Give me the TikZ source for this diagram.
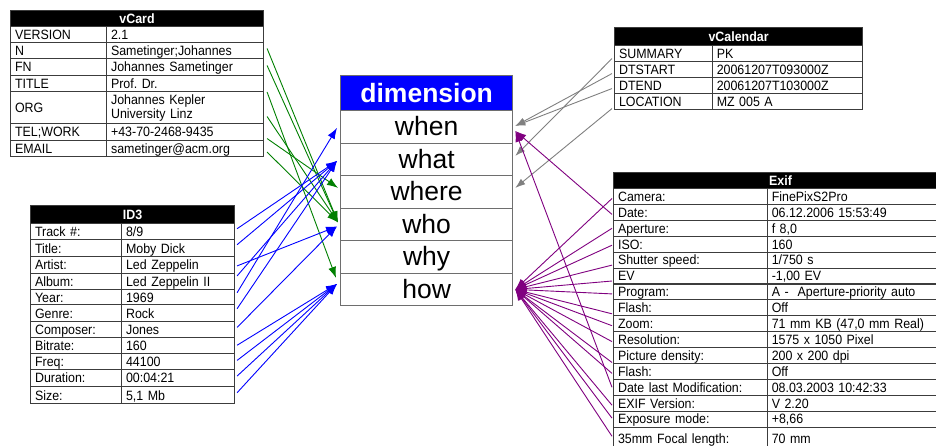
\documentclass[tikz,border=0pt]{standalone}
\usepackage{fontspec}
\setmainfont{Liberation Sans}
\newfontfamily\tabfam[FakeStretch=0.92]{Liberation Sans}
\usetikzlibrary{arrows.meta}
\frenchspacing
\definecolor{tabline}{RGB}{60,60,60}
\definecolor{dimline}{RGB}{110,110,110}
\definecolor{cgreen}{RGB}{0,128,0}
\definecolor{cblue}{RGB}{0,0,255}
\definecolor{cgray}{RGB}{128,128,128}
\definecolor{cpurple}{RGB}{128,0,128}
\newcommand\tabfont{\tabfam\fontsize{13.5}{14}\selectfont}
\newcommand\dimfont{\fontsize{26.5}{29}\selectfont}
% #1 name, #2 x0, #3 y0, #4 x1, #5 y1, #6 style, #7 text
\newcommand\tcell[7]{%
  \pgfmathsetmacro\cw{#4-#2}\pgfmathsetmacro\ch{#5-#3}\pgfmathsetmacro\tw{#4-#2-9}%
  \node[#6, minimum width=\cw pt, minimum height=\ch pt, text width=\tw pt] (#1) at (#2,#3) {#7};}
% #1 name, #2 x0, #3 xm, #4 x1, #5 y0, #6 y1, #7 label, #8 value
\newcommand\trow[8]{\tcell{#1k}{#2}{#5}{#3}{#6}{cell}{#7}\tcell{#1}{#3}{#5}{#4}{#6}{cell}{#8}}
\newcommand\trowml[8]{\tcell{#1k}{#2}{#5}{#3}{#6}{cellml}{#7}\tcell{#1}{#3}{#5}{#4}{#6}{cellml}{#8}}
\begin{document}
\begin{tikzpicture}[x=1pt,y=-1pt,
  cellml/.style={rectangle, draw=tabline, line width=1.1pt, inner xsep=4.5pt, inner ysep=0pt,
    font=\tabfont, align=left, anchor=north west},
  cell/.style={cellml, text height=11pt, text depth=1.3pt},
  hcell/.style={cell, fill=black, text=white, font=\tabfont\bfseries, align=center},
  dimcell/.style={rectangle, draw=dimline, line width=1.3pt, inner sep=0pt, font=\dimfont,
    anchor=north west, minimum width=172pt, minimum height=32.5pt,
    text height=20pt, text depth=2pt},
  dimhead/.style={dimcell, fill=cblue, text=white, font=\dimfont\bfseries, minimum height=35pt},
  garrow/.style={draw=cgreen, line width=0.9pt, -{Latex[length=11pt,width=8pt]}},
  barrow/.style={draw=cblue, line width=0.9pt, -{Latex[length=11pt,width=8pt]}},
  grarrow/.style={draw=cgray, line width=0.9pt, -{Latex[length=10pt,width=7pt]}},
  parrow/.style={draw=cpurple, line width=0.9pt, -{Latex[length=11pt,width=8pt]}}]
\clip (0,0) rectangle (936,445);
\fill[white] (0,0) rectangle (936,445);
% ---------- vCard ----------
\tcell{vcH}{10}{9.5}{263}{26}{hcell}{vCard}
\trow{vcVER}{10}{106}{263}{26}{42}{VERSION}{2.1}
\trow{vcN}{10}{106}{263}{42}{58}{N}{Sametinger;Johannes}
\trow{vcFN}{10}{106}{263}{58}{75}{FN}{Johannes Sametinger}
\trow{vcTI}{10}{106}{263}{75}{91}{TITLE}{Prof. Dr.}
\trowml{vcORG}{10}{106}{263}{91}{123}{ORG}{Johannes Kepler\\University Linz}
\trow{vcTEL}{10}{106}{263}{123}{140}{TEL;WORK}{+43-70-2468-9435}
\trow{vcEM}{10}{106}{263}{140}{156}{EMAIL}{sametinger@acm.org}
% ---------- ID3 ----------
\tcell{idH}{30}{205}{234}{223}{hcell}{ID3}
\trow{idTR}{30}{121}{234}{223}{239.3}{Track \#:}{8/9}
\trow{idTI}{30}{121}{234}{239.3}{256}{Title:}{Moby Dick}
\trow{idAR}{30}{121}{234}{256}{272.7}{Artist:}{Led Zeppelin}
\trow{idAL}{30}{121}{234}{272.7}{289}{Album:}{Led Zeppelin II}
\trow{idYE}{30}{121}{234}{289}{304.3}{Year:}{1969}
\trow{idGE}{30}{121}{234}{304.3}{321}{Genre:}{Rock}
\trow{idCO}{30}{121}{234}{321}{336.7}{Composer:}{Jones}
\trow{idBI}{30}{121}{234}{336.7}{352.7}{Bitrate:}{160}
\trow{idFR}{30}{121}{234}{352.7}{369}{Freq:}{44100}
\trow{idDU}{30}{121}{234}{369}{386}{Duration:}{00:04:21}
\trow{idSI}{30}{121}{234}{386}{403.3}{Size:}{5,1 Mb}
% ---------- dimension ----------
\node[dimhead] (dHead) at (340,75) {dimension};
\node[dimcell] (dWhen) at (340,110) {when};
\node[dimcell] (dWhat) at (340,142.5) {what};
\node[dimcell] (dWhere) at (340,175) {where};
\node[dimcell] (dWho) at (340,207.5) {who};
\node[dimcell] (dWhy) at (340,240) {why};
\node[dimcell] (dHow) at (340,272.5) {how};
% ---------- vCalendar ----------
\tcell{calH}{614}{27}{862}{45}{hcell}{vCalendar}
\trow{calSU}{614}{711.7}{862}{45}{61}{SUMMARY}{PK}
\trow{calDS}{614}{711.7}{862}{61}{77}{DTSTART}{20061207T093000Z}
\trow{calDE}{614}{711.7}{862}{77}{93}{DTEND}{20061207T103000Z}
\trow{calLO}{614}{711.7}{862}{93}{109}{LOCATION}{MZ 005 A}
% ---------- Exif ----------
\tcell{exH}{613}{172}{947}{188}{hcell}{Exif}
\trow{exA}{613}{766.7}{947}{188}{203.9}{Camera:}{FinePixS2Pro}
\trow{exB}{613}{766.7}{947}{203.9}{219.8}{Date:}{06.12.2006 15:53:49}
\trow{exC}{613}{766.7}{947}{219.8}{235.7}{Aperture:}{f 8,0}
\trow{exD}{613}{766.7}{947}{235.7}{251.6}{ISO:}{160}
\trow{exE}{613}{766.7}{947}{251.6}{267.5}{Shutter speed:}{1/750 s}
\trow{exF}{613}{766.7}{947}{267.5}{283.4}{EV}{-1,00 EV}
\trow{exG}{613}{766.7}{947}{283.4}{299.3}{Program:}{A - \ Aperture-priority auto}
\trow{exH}{613}{766.7}{947}{299.3}{315.2}{Flash:}{Off}
\trow{exI}{613}{766.7}{947}{315.2}{331.1}{Zoom:}{71 mm KB (47,0 mm Real)}
\trow{exJ}{613}{766.7}{947}{331.1}{347}{Resolution:}{1575 x 1050 Pixel}
\trow{exK}{613}{766.7}{947}{347}{362.9}{Picture density:}{200 x 200 dpi}
\trow{exL}{613}{766.7}{947}{362.9}{378.8}{Flash:}{Off}
\trow{exM}{613}{766.7}{947}{378.8}{394.7}{Date last Modification:}{08.03.2003 10:42:33}
\trow{exN}{613}{766.7}{947}{394.7}{410.6}{EXIF Version:}{V 2.20}
\trow{exO}{613}{766.7}{947}{410.6}{426.5}{Exposure mode:}{+8,66}
\trow{exP}{613}{766.7}{947}{426.5}{449}{35mm Focal length:}{70 mm}
% ---------- green: vCard -> dimension ----------
\draw[garrow] ([xshift=3pt,yshift=2pt]vcN.east) -- ([xshift=-2pt,yshift=2pt]dWho.west);
\draw[garrow] ([xshift=3pt,yshift=1.5pt]vcFN.east) -- ([xshift=-2pt,yshift=2pt]dWho.west);
\draw[garrow] ([xshift=3pt,yshift=-8.5pt]vcTI.east) -- ([xshift=-4pt,yshift=11.5pt]dHow.west);
\draw[garrow] ([xshift=3pt,yshift=-9pt]vcORG.east) -- ([xshift=-2pt,yshift=2pt]dWho.west);
\draw[garrow] ([xshift=3pt,yshift=-6.5pt]vcTEL.east) -- ([xshift=-2pt,yshift=4pt]dWhere.west);
\draw[garrow] ([xshift=3pt,yshift=-3.5pt]vcEM.east) -- ([xshift=-2pt,yshift=2pt]dWho.west);
% ---------- blue: ID3 -> dimension ----------
\draw[barrow] ([xshift=2pt,yshift=3pt]idTR.east) -- ([xshift=-3pt,yshift=-1.5pt]dWhat.west);
\draw[barrow] ([xshift=2pt,yshift=3.5pt]idTI.east) -- ([xshift=-3pt,yshift=-1.5pt]dWhat.west);
\draw[barrow] ([xshift=2pt,yshift=-1pt]idAR.east) -- ([xshift=-3pt,yshift=-2pt]dWho.west);
\draw[barrow] ([xshift=2pt,yshift=5.5pt]idAL.east) -- ([xshift=-3pt,yshift=-1.5pt]dWhat.west);
\draw[barrow] ([xshift=2pt,yshift=4.5pt]idYE.east) -- ([xshift=-3pt,yshift=-1pt]dWhen.west);
\draw[barrow] ([xshift=2pt,yshift=4.5pt]idGE.east) -- ([xshift=-3pt,yshift=-1.5pt]dWhat.west);
\draw[barrow] ([xshift=2pt,yshift=2pt]idCO.east) -- ([xshift=-3pt,yshift=-2pt]dWho.west);
\draw[barrow] ([xshift=2pt]idBI.east) -- ([xshift=-3pt,yshift=5.5pt]dHow.west);
\draw[barrow] ([xshift=2pt,yshift=1pt]idFR.east) -- ([xshift=-3pt,yshift=5.5pt]dHow.west);
\draw[barrow] ([xshift=2pt,yshift=2pt]idDU.east) -- ([xshift=-3pt,yshift=5.5pt]dHow.west);
\draw[barrow] ([xshift=2pt,yshift=2.5pt]idSI.east) -- ([xshift=-3pt,yshift=5.5pt]dHow.west);
% ---------- gray: vCalendar -> dimension ----------
\draw[grarrow] ([xshift=-2pt,yshift=-5pt]calSUk.west) -- ([xshift=2pt,yshift=3.5pt]dWhat.east);
\draw[grarrow] ([xshift=-2pt,yshift=-4pt]calDSk.west) -- ([xshift=2pt,yshift=1pt]dWhen.east);
\draw[grarrow] ([xshift=-2pt,yshift=-3pt]calDEk.west) -- ([xshift=2pt,yshift=1pt]dWhen.east);
\draw[grarrow] ([xshift=-2pt,yshift=-7pt]calLOk.west) -- ([xshift=2pt,yshift=4pt]dWhere.east);
% ---------- purple: Exif -> dimension ----------
\draw[parrow] ([xshift=-1pt,yshift=-2pt]exBk.west) -- ([xshift=2pt,yshift=-4pt]dWhen.east);
\draw[parrow] ([xshift=-1pt]exMk.west) -- ([xshift=2pt,yshift=-4pt]dWhen.east);
\foreach \r/\s in {exA/-2,exC/0,exD/-1,exE/-5,exF/-5,exG/-2,exH/-6,exI/-2,exJ/-2,exK/-7,exL/-2,exN/-2,exO/1}
  \draw[parrow] ([xshift=-1pt,yshift=\s pt]\r k.west) -- ([xshift=2pt]dHow.east);
\draw[parrow] ([xshift=-1pt,yshift=2pt]exPk.west) -- ([xshift=2pt]dHow.east);
\end{tikzpicture}
\end{document}
